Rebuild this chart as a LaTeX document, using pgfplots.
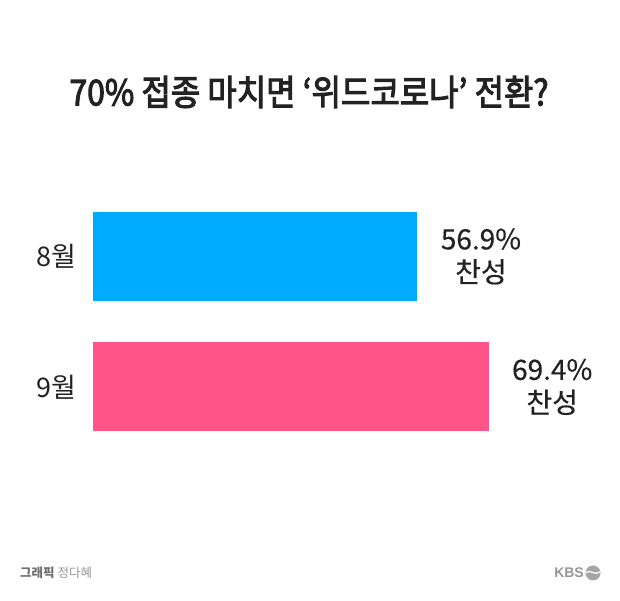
\documentclass[border=0pt]{standalone}
\usepackage{pgfplots}
\pgfplotsset{compat=1.18}
\usepackage{graphicx}
\usepackage{fontspec}
\setmainfont{Liberation Sans}
\newfontfamily\cjk{Noto Sans CJK KR}[FakeBold=0.4]
\newfontfamily\cjkf{Noto Sans CJK KR}
\newfontfamily\cjkt{Noto Sans CJK KR}[FakeBold=3]
\definecolor{barblue}{RGB}{0,170,255}
\definecolor{barpink}{RGB}{255,84,136}
\definecolor{txt}{RGB}{34,34,34}
\begin{document}
\begin{tikzpicture}[x=1pt,y=1pt]
\useasboundingbox[fill=white] (0,0) rectangle (620,601);
% title
\node[text=txt,font=\cjkt\fontsize{35.5}{40}\selectfont] at (309,509) {\scalebox{0.9}[1]{70\% 접종 마치면 ‘위드코로나’ 전환?}};
\begin{axis}[
  at={(93pt,148.75pt)}, anchor=south west,
  scale only axis, width=570pt, height=261pt,
  xmin=0, xmax=100, ymin=-0.5, ymax=1.5,
  xbar, bar width=89pt,
  axis line style={draw=none},
  major tick length=0pt,
  xtick=\empty,
  ytick={0,1}, yticklabels={9월,8월},
  yticklabel style={font=\cjkf\fontsize{27}{32}\selectfont, text=txt, xshift=-13pt},
  /pgf/number format/assume math mode=true,
  nodes near coords={\pgfmathprintnumber[fixed,precision=1,fixed zerofill,assume math mode=true]{\pgfplotspointmeta}\%\\찬성},
  point meta=x,
  nodes near coords style={font=\cjk\fontsize{28}{33}\selectfont, text=txt, align=center, anchor=west, xshift=20pt},
  clip=false,
]
\addplot[fill=barblue, draw=none, bar shift=0pt] coordinates {(56.9,1)};
\addplot[fill=barpink, draw=none, bar shift=0pt] coordinates {(69.4,0)};
\end{axis}
% footer
\node[anchor=west, font=\cjkf\fontsize{12.5}{14}\selectfont, inner sep=0pt] at (20,28) {\textcolor[RGB]{110,110,110}{\bfseries 그래픽} \textcolor[RGB]{150,150,150}{정다혜}};
\node[anchor=east, font=\bfseries\fontsize{14}{16}\selectfont, text={rgb,255:red,150;green,150;blue,150}, inner sep=0pt] at (584,28) {KBS};
\fill[gray!70] (593,28) circle (7.5);
\draw[white, line width=1.3pt] (586,28.5) .. controls (590,32) and (595,25) .. (600,29);
\end{tikzpicture}
\end{document}
